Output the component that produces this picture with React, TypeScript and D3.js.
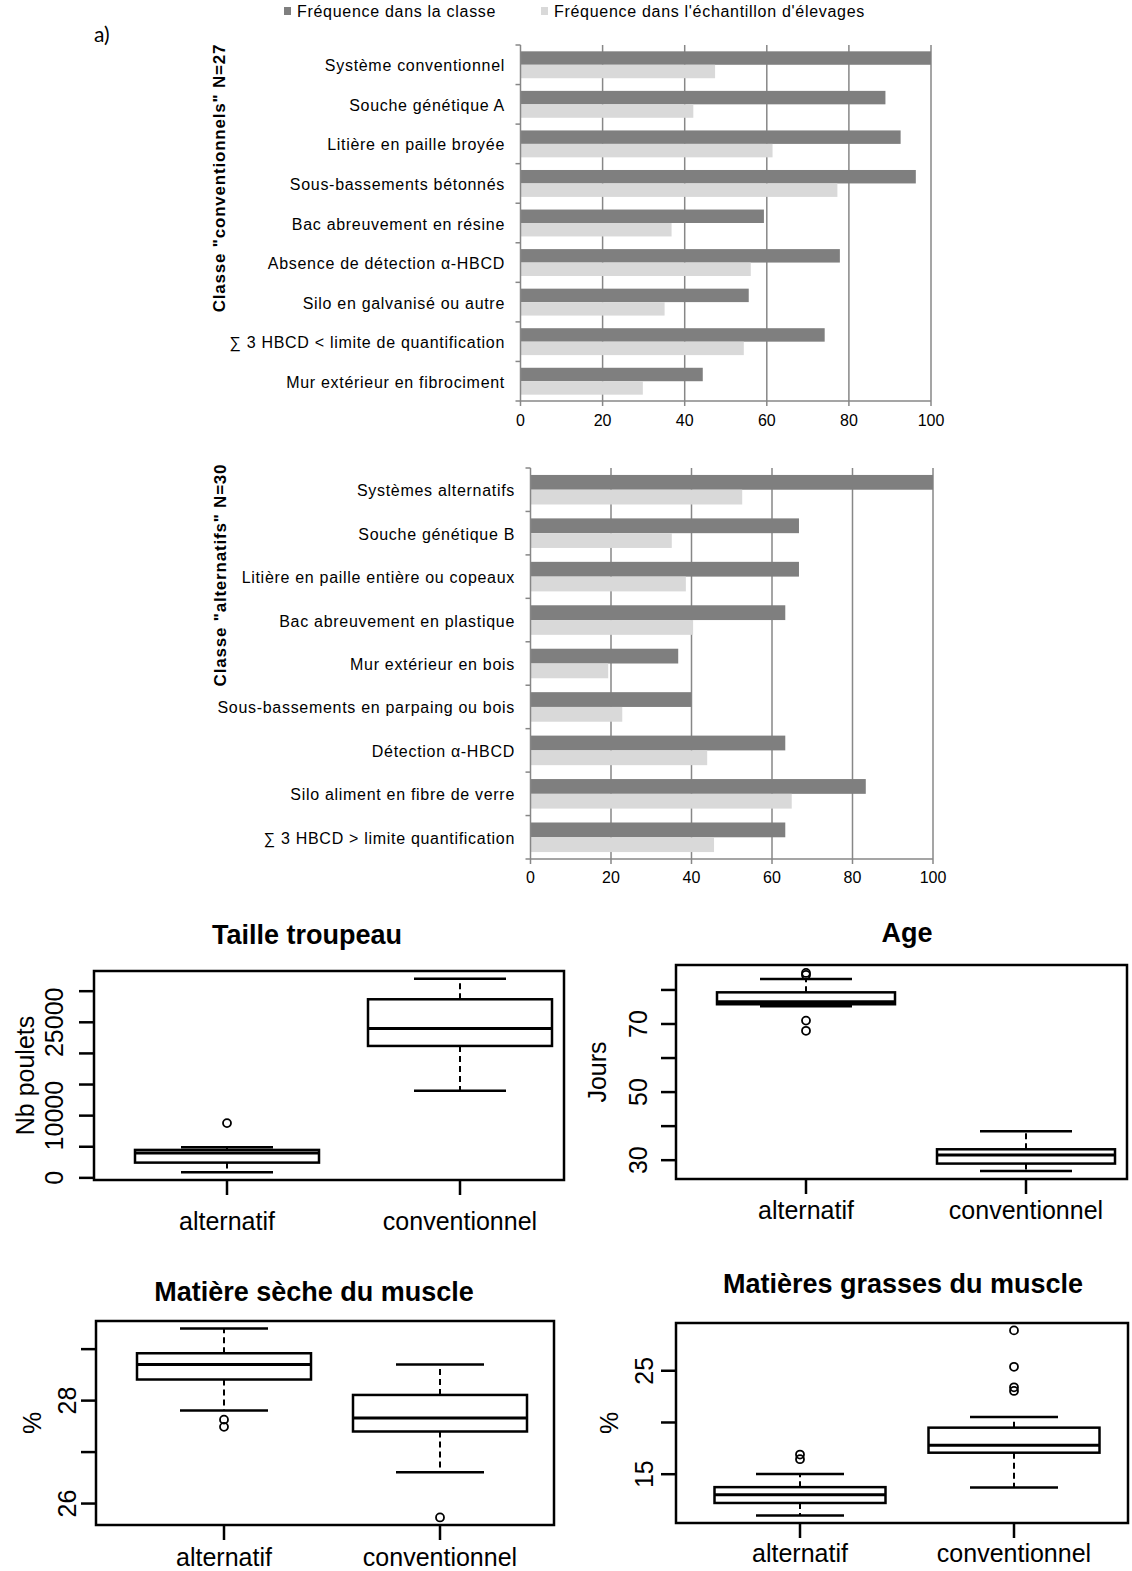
import React from "react";
import * as d3 from "d3";

const FONT = "'Liberation Sans', Arial, Helvetica, sans-serif";
const GRID = "#878787";
const DARK = "#7f7f7f";
const LIGHT = "#d9d9d9";

// ---------- Data: bar charts ----------
const seriesKeys = ["classe", "echantillon"];
const legendLabels = ["Fréquence dans la classe", "Fréquence dans l'échantillon d'élevages"];
const xTicks = [0, 20, 40, 60, 80, 100];

const convCategories = [
  "Système conventionnel",
  "Souche génétique A",
  "Litière en paille broyée",
  "Sous-bassements bétonnés",
  "Bac abreuvement en résine",
  "Absence de détection α-HBCD",
  "Silo en galvanisé ou autre",
  "∑ 3 HBCD < limite de quantification",
  "Mur extérieur en fibrociment",
];
const convClassFreq = [100, 88.9, 92.6, 96.3, 59.3, 77.8, 55.6, 74.1, 44.4];
const convSampleFreq = [47.4, 42.1, 61.4, 77.2, 36.8, 56.1, 35.1, 54.4, 29.8];

const altCategories = [
  "Systèmes alternatifs",
  "Souche génétique B",
  "Litière en paille entière ou copeaux",
  "Bac abreuvement en plastique",
  "Mur extérieur en bois",
  "Sous-bassements en parpaing ou bois",
  "Détection α-HBCD",
  "Silo aliment en fibre de verre",
  "∑ 3 HBCD > limite quantification",
];
const altClassFreq = [100, 66.7, 66.7, 63.3, 36.7, 40.0, 63.3, 83.3, 63.3];
const altSampleFreq = [52.6, 35.1, 38.6, 40.4, 19.3, 22.8, 43.9, 64.9, 45.6];

// ---------- Data: boxplots [lower whisker, Q1, median, Q3, upper whisker] ----------
const boxGroups = ["alternatif", "conventionnel"];

const tailleStats = [
  [900, 2450, 3980, 4490, 4900],
  [14000, 21200, 24000, 28700, 32000],
];
const tailleOutliers = [[8800], []];
const tailleTicks = [0, 5000, 10000, 15000, 20000, 25000, 30000];
const tailleTickLabels = [0, 10000, 25000];

const ageStats = [
  [75.2, 75.8, 76.5, 79.3, 83.2],
  [26.8, 29.0, 31.5, 33.2, 38.5],
];
const ageOutliers = [[85.0, 84.4, 71.0, 68.0], []];
const ageTicks = [30, 40, 50, 60, 70, 80];
const ageTickLabels = [30, 50, 70];

const secheStats = [
  [27.81, 28.41, 28.7, 28.92, 29.4],
  [26.61, 27.4, 27.66, 28.11, 28.7],
];
const secheOutliers = [[27.63, 27.49], [25.73]];
const secheTicks = [26, 27, 28, 29];
const secheTickLabels = [26, 28];

const grasStats = [
  [11.0, 12.22, 13.02, 13.75, 15.03],
  [13.72, 17.08, 17.81, 19.5, 20.53],
];
const grasOutliers = [[16.9, 16.45], [28.9, 25.38, 23.4, 23.05]];
const grasTicks = [15, 20, 25];
const grasTickLabels = [15, 25];

// ---------- Components ----------
function BarPanel(props: any) {
  const { cats, cls, smp, left, right, top, bottom, labelRight, title, titleX, titleY, tickLabelY } = props;
  const x = d3.scaleLinear().domain([0, 100]).range([left, right]);
  const y = d3.scaleBand().domain(cats).range([top, bottom]);
  const inner = d3.scaleBand().domain(seriesKeys).range([0, y.bandwidth()]).paddingOuter(0.47);
  const bounds = d3.range(cats.length + 1).map((i) => top + i * y.step());
  const vals = [cls, smp];
  const fills = [DARK, LIGHT];
  return (
    <g>
      {xTicks.filter((t) => t > 0).map((t) => (
        <line key={"g" + t} x1={x(t)} x2={x(t)} y1={top} y2={bottom} stroke={GRID} strokeWidth={1.5} />
      ))}
      {cats.map((c: string, i: number) => (
        <g key={c}>
          {seriesKeys.map((k, j) => (
            <rect
              key={k}
              x={x(0)}
              y={(y(c) as number) + (inner(k) as number)}
              width={x(vals[j][i]) - x(0)}
              height={inner.bandwidth()}
              fill={fills[j]}
            />
          ))}
          <text
            x={labelRight}
            y={(y(c) as number) + y.bandwidth() / 2 + 1}
            textAnchor="end"
            dominantBaseline="central"
            fontSize={16}
            letterSpacing={0.7}
            fill="#000"
          >
            {c}
          </text>
        </g>
      ))}
      <line x1={x(0)} x2={x(0)} y1={top} y2={bottom} stroke={GRID} strokeWidth={1.5} />
      <line x1={x(0)} x2={x(100)} y1={bottom} y2={bottom} stroke={GRID} strokeWidth={1.5} />
      {bounds.map((b, i) => (
        <line key={"b" + i} x1={x(0) - 5} x2={x(0)} y1={b} y2={b} stroke={GRID} strokeWidth={1.5} />
      ))}
      {xTicks.map((t) => (
        <g key={"t" + t}>
          <line x1={x(t)} x2={x(t)} y1={bottom} y2={bottom + 5} stroke={GRID} strokeWidth={1.5} />
          <text x={x(t)} y={tickLabelY} textAnchor="middle" dominantBaseline="central" fontSize={16} fill="#000">
            {t}
          </text>
        </g>
      ))}
      <text
        transform={`translate(${titleX},${titleY}) rotate(-90)`}
        textAnchor="middle"
        dominantBaseline="central"
        fontSize={17}
        fontWeight="bold"
        letterSpacing={0.8}
        fill="#000"
      >
        {title}
      </text>
    </g>
  );
}

function BoxPanel(props: any) {
  const { stats, outs, ticks, tickLabels, L, R, T, B, gx, boxHalf, capHalf, title, titleX, titleY, ylab, ylabX, tickX, xlabY } = props;
  const all = [...stats.flat(), ...outs.flat()];
  const [mn, mx] = d3.extent(all) as [number, number];
  const pad = 0.04 * (mx - mn);
  const y = d3.scaleLinear().domain([mn - pad, mx + pad]).range([B, T]);
  const x = d3.scalePoint().domain(boxGroups).range(gx);
  const lw = 2.5;
  return (
    <g>
      <text x={titleX} y={titleY} textAnchor="middle" dominantBaseline="central" fontSize={27} fontWeight="bold" fill="#000">
        {title}
      </text>
      {boxGroups.map((g, i) => {
        const cx = x(g) as number;
        const [lo, q1, med, q3, hi] = stats[i];
        return (
          <g key={g}>
            <line x1={cx} x2={cx} y1={y(q3)} y2={y(hi)} stroke="#000" strokeWidth={2} strokeDasharray="6 4" />
            <line x1={cx} x2={cx} y1={y(q1)} y2={y(lo)} stroke="#000" strokeWidth={2} strokeDasharray="6 4" />
            <line x1={cx - capHalf} x2={cx + capHalf} y1={y(hi)} y2={y(hi)} stroke="#000" strokeWidth={lw} />
            <line x1={cx - capHalf} x2={cx + capHalf} y1={y(lo)} y2={y(lo)} stroke="#000" strokeWidth={lw} />
            <rect x={cx - boxHalf} y={y(q3)} width={boxHalf * 2} height={y(q1) - y(q3)} fill="#fff" stroke="#000" strokeWidth={lw} />
            <line x1={cx - boxHalf} x2={cx + boxHalf} y1={y(med)} y2={y(med)} stroke="#000" strokeWidth={3} />
            {outs[i].map((o: number, k: number) => (
              <circle key={k} cx={cx} cy={y(o)} r={4} fill="none" stroke="#000" strokeWidth={1.8} />
            ))}
            <line x1={cx} x2={cx} y1={B} y2={B + 15} stroke="#000" strokeWidth={lw} />
            <text x={cx} y={xlabY} textAnchor="middle" dominantBaseline="central" fontSize={25} fill="#000">
              {g}
            </text>
          </g>
        );
      })}
      {ticks.map((t: number) => (
        <line key={"t" + t} x1={L - 15} x2={L} y1={y(t)} y2={y(t)} stroke="#000" strokeWidth={lw} />
      ))}
      {tickLabels.map((t: number) => (
        <text
          key={"l" + t}
          transform={`translate(${tickX},${y(t)}) rotate(-90)`}
          textAnchor="middle"
          dominantBaseline="central"
          fontSize={25}
          fill="#000"
        >
          {t}
        </text>
      ))}
      <rect x={L} y={T} width={R - L} height={B - T} fill="none" stroke="#000" strokeWidth={lw} />
      <text
        transform={`translate(${ylabX},${(T + B) / 2}) rotate(-90)`}
        textAnchor="middle"
        dominantBaseline="central"
        fontSize={25}
        fill="#000"
      >
        {ylab}
      </text>
    </g>
  );
}

export default function App() {
  const legendX = [284, 541];
  const legendTextX = [297, 554];
  return (
    <svg
      width={1132}
      height={1571}
      style={{ position: "absolute", left: 0, top: 0, background: "#fff" }}
      fontFamily={FONT}
    >
      <rect x={0} y={0} width={1132} height={1571} fill="#fff" />
      <text x={94} y={42} fontFamily="Lato, 'Open Sans', sans-serif" fontSize={21} fill="#000">
        a)
      </text>
      {legendLabels.map((l, i) => (
        <g key={l}>
          <rect x={legendX[i]} y={7} width={7} height={8} fill={i === 0 ? DARK : LIGHT} />
          <text x={legendTextX[i]} y={11} dominantBaseline="central" fontSize={16} letterSpacing={0.7} fill="#000">
            {l}
          </text>
        </g>
      ))}
      <BarPanel
        cats={convCategories}
        cls={convClassFreq}
        smp={convSampleFreq}
        left={520.5}
        right={931}
        top={45}
        bottom={401}
        labelRight={505}
        title={'Classe "conventionnels" N=27'}
        titleX={219}
        titleY={178}
        tickLabelY={420}
      />
      <BarPanel
        cats={altCategories}
        cls={altClassFreq}
        smp={altSampleFreq}
        left={530.5}
        right={933}
        top={468}
        bottom={859}
        labelRight={515}
        title={'Classe "alternatifs" N=30'}
        titleX={220}
        titleY={575}
        tickLabelY={877}
      />
      <BoxPanel
        stats={tailleStats}
        outs={tailleOutliers}
        ticks={tailleTicks}
        tickLabels={tailleTickLabels}
        L={94}
        R={564}
        T={971}
        B={1180}
        gx={[227, 460]}
        boxHalf={92}
        capHalf={46}
        title="Taille troupeau"
        titleX={307}
        titleY={935}
        ylab="Nb poulets"
        ylabX={25}
        tickX={54}
        xlabY={1221}
      />
      <BoxPanel
        stats={ageStats}
        outs={ageOutliers}
        ticks={ageTicks}
        tickLabels={ageTickLabels}
        L={676}
        R={1127}
        T={965}
        B={1179}
        gx={[806, 1026]}
        boxHalf={89}
        capHalf={46}
        title="Age"
        titleX={907}
        titleY={933}
        ylab="Jours"
        ylabX={597}
        tickX={638}
        xlabY={1210}
      />
      <BoxPanel
        stats={secheStats}
        outs={secheOutliers}
        ticks={secheTicks}
        tickLabels={secheTickLabels}
        L={96}
        R={554}
        T={1321}
        B={1525}
        gx={[224, 440]}
        boxHalf={87}
        capHalf={44}
        title="Matière sèche du muscle"
        titleX={314}
        titleY={1292}
        ylab="%"
        ylabX={32}
        tickX={67}
        xlabY={1557}
      />
      <BoxPanel
        stats={grasStats}
        outs={grasOutliers}
        ticks={grasTicks}
        tickLabels={grasTickLabels}
        L={676}
        R={1128}
        T={1323}
        B={1523}
        gx={[800, 1014]}
        boxHalf={85.5}
        capHalf={44}
        title="Matières grasses du muscle"
        titleX={903}
        titleY={1284}
        ylab="%"
        ylabX={609}
        tickX={644}
        xlabY={1553}
      />
    </svg>
  );
}
